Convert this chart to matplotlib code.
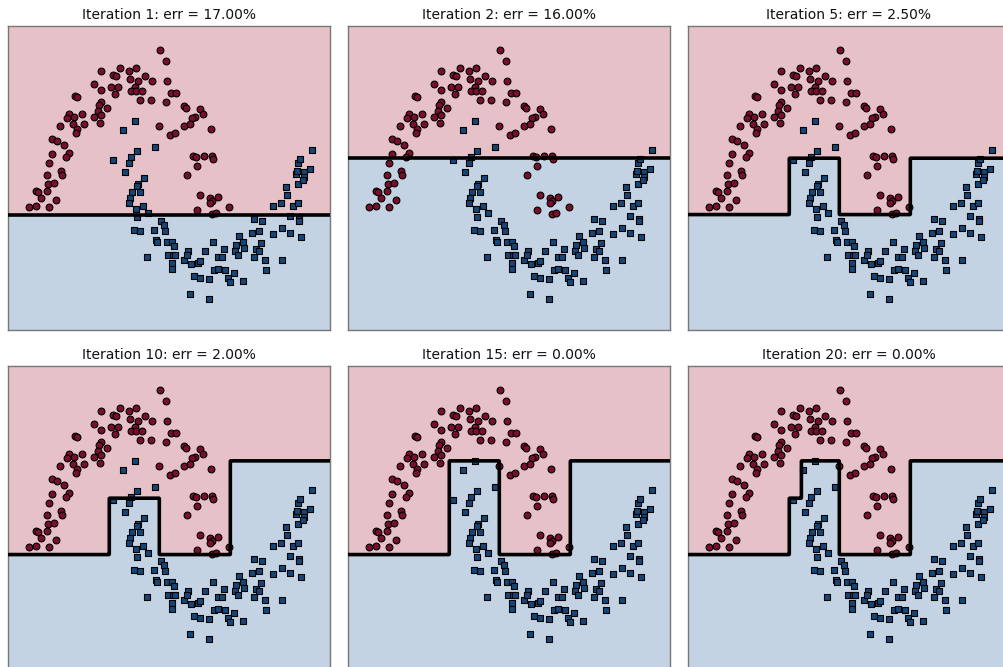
import numpy as np
import matplotlib
matplotlib.use("Agg")
import matplotlib.pyplot as plt

# Two-moons sample: class 0 (upper moon) and class 1 (lower moon)
red_x = [0.36, 0.42, -0.04, -0.23, 0.05, 0.12, -0.11, -0.08, 0.21, 0.06,
         0.14, 0.28, 0.43, -0.30, -0.13, -0.06, -0.23, 0.11, 0.07, 0.12,
         0.18, 0.47, 0.52, -0.49, -0.47, -0.09, 0.16, 0.27, 0.42, -0.23,
         -0.25, -0.17, 0.60, 0.62, 0.76, -0.26, -0.42, -0.55, -0.50, -0.57,
         -0.30, -0.23, 0.71, 0.68, 0.79, -0.24, -0.40, -0.51, -0.64, -0.47,
         -0.48, 0.35, 0.60, 0.66, 0.87, 0.46, 0.51, -0.72, -0.67, -0.60,
         -0.55, -0.72, -0.58, -0.75, -0.63, -0.77, -0.62, -0.76, -0.70, -0.88,
         -0.86, -0.77, -0.83, -0.68, -0.95, -0.88, -0.75, 0.69, 0.72, 0.80,
         0.88, 0.89, 0.73, 0.63, 0.76, 0.86, 0.88, 0.94, 0.86, 0.73,
         0.88, 0.92, 1.05]
red_y = [1.10, 1.03, 0.98, 0.96, 0.96, 0.98, 0.94, 0.93, 0.93, 0.91,
         0.90, 0.90, 0.90, 0.88, 0.86, 0.86, 0.84, 0.86, 0.83, 0.83,
         0.83, 0.82, 0.82, 0.80, 0.79, 0.81, 0.77, 0.77, 0.76, 0.76,
         0.74, 0.72, 0.73, 0.72, 0.71, 0.70, 0.68, 0.68, 0.66, 0.65,
         0.66, 0.67, 0.66, 0.65, 0.68, 0.62, 0.61, 0.61, 0.60, 0.58,
         0.55, 0.60, 0.60, 0.61, 0.58, 0.54, 0.55, 0.51, 0.50, 0.47,
         0.42, 0.41, 0.39, 0.35, 0.30, 0.27, 0.27, 0.21, 0.22, 0.17,
         0.16, 0.17, 0.12, 0.11, 0.06, 0.07, 0.06, 0.40, 0.39, 0.40,
         0.40, 0.38, 0.33, 0.27, 0.14, 0.12, 0.10, 0.13, 0.09, 0.04,
         0.015, 0.02, 0.06]

blue_x = [1.88, 0.11, -0.01, 0.31, 0.13, 0.07, 0.05, -0.11, 0.01, 0.20,
          0.14, 0.13, 0.08, 0.16, 0.06, 0.05, 0.19, 0.12, 0.24, 0.13,
          0.37, 0.40, 0.10, 0.16, 0.30, 0.41, 0.32, 0.33, 0.43, 0.48,
          0.50, 0.23, 0.44, 0.49, 0.51, 0.48, 0.48, 0.60, 0.64, 0.63,
          0.67, 0.74, 0.76, 0.81, 0.89, 0.94, 0.98, 1.00, 0.90, 0.94,
          1.01, 1.10, 0.70, 0.76, 0.85, 1.04, 1.06, 1.19, 0.66, 0.85,
          1.12, 1.11, 1.14, 1.15, 1.19, 1.20, 1.28, 1.35, 1.30, 1.38,
          1.30, 1.32, 1.35, 1.37, 1.41, 1.42, 1.58, 1.49, 1.58, 1.66,
          1.77, 1.49, 1.57, 1.62, 1.63, 1.66, 1.69, 1.74, 1.75, 1.75,
          1.74, 1.72, 1.73, 1.74, 1.76, 1.80, 1.86, 1.80, 1.79]
blue_y = [0.44, 0.63, 0.57, 0.46, 0.43, 0.39, 0.35, 0.37, 0.29, 0.25,
          0.21, 0.20, 0.16, 0.16, 0.12, 0.09, 0.07, 0.05, 0.02, -0.004,
          -0.03, -0.06, -0.09, -0.10, -0.09, -0.10, -0.16, -0.17, -0.17, -0.17,
          -0.20, -0.27, -0.26, -0.26, -0.26, -0.31, -0.35, -0.29, -0.23, -0.26,
          -0.32, -0.31, -0.30, -0.23, -0.17, -0.27, -0.27, -0.22, -0.36, -0.35,
          -0.36, -0.38, -0.40, -0.41, -0.42, -0.41, -0.44, -0.43, -0.52, -0.55,
          -0.19, -0.23, -0.26, -0.13, -0.17, -0.21, -0.11, -0.10, -0.02, -0.03,
          -0.27, -0.22, -0.23, -0.18, -0.29, -0.36, -0.29, -0.12, -0.08, -0.11,
          -0.14, 0.07, 0.09, 0.19, 0.14, 0.002, 0.07, 0.09, -0.02, -0.03,
          0.21, 0.28, 0.30, 0.35, 0.38, 0.29, 0.31, 0.26, 0.24]

# Ensemble decision boundary after selected iterations (piecewise constant):
# split points along x and the y-threshold between consecutive splits
titles = ["Iteration 1: err = 17.00%", "Iteration 2: err = 16.00%",
          "Iteration 5: err = 2.50%", "Iteration 10: err = 2.00%",
          "Iteration 15: err = 0.00%", "Iteration 20: err = 0.00%"]
split_x = [[], [],
           [-0.147, 0.35, 1.062],
           [-0.147, 0.35, 1.062],
           [-0.147, 0.35, 1.062],
           [-0.147, -0.027, 0.35, 1.062]]
level_y = [[0.01], [0.382],
           [0.01, 0.382, 0.01, 0.382],
           [0.01, 0.382, 0.01, 0.632],
           [0.01, 0.632, 0.01, 0.632],
           [0.01, 0.382, 0.632, 0.01, 0.632]]

xlim = (-1.16, 2.06)
ylim = (-0.756, 1.262)

pink = "#e6c1c8"
light_blue = "#c4d3e3"
red_pt = "#780f2d"
blue_pt = "#154677"

W, H = 1004, 667
fig = plt.figure(figsize=(W / 100, H / 100), dpi=100)

xx, yy = np.meshgrid(np.linspace(*xlim, 400), np.linspace(*ylim, 400))

lefts = [8, 348, 688]
tops = [26, 366]
aw, ah = 322, 304

for i in range(6):
    r, c = divmod(i, 3)
    ax = fig.add_axes([lefts[c] / W, (H - tops[r] - ah) / H, aw / W, ah / H])
    idx = np.searchsorted(split_x[i], xx[0])
    thresh = np.asarray(level_y[i])[idx]
    zz = (yy > thresh[None, :]).astype(float)
    ax.contourf(xx, yy, zz, levels=[-0.5, 0.5, 1.5], colors=[light_blue, pink])
    ax.scatter(red_x, red_y, s=24, marker="o", c=red_pt, edgecolors="black",
               linewidths=0.8, zorder=3)
    ax.scatter(blue_x, blue_y, s=23, marker="s", c=blue_pt, edgecolors="black",
               linewidths=0.8, zorder=3)
    ax.contour(xx, yy, zz, levels=[0.5], colors="black", linewidths=2.6, zorder=4)
    ax.set_xlim(*xlim)
    ax.set_ylim(*ylim)
    ax.set_xticks([])
    ax.set_yticks([])
    for sp in ax.spines.values():
        sp.set_color("#777777")
        sp.set_linewidth(1.0)
    ax.set_title(titles[i], fontsize=10, color="#111111", pad=5)

fig.savefig("out.png", dpi=100)
